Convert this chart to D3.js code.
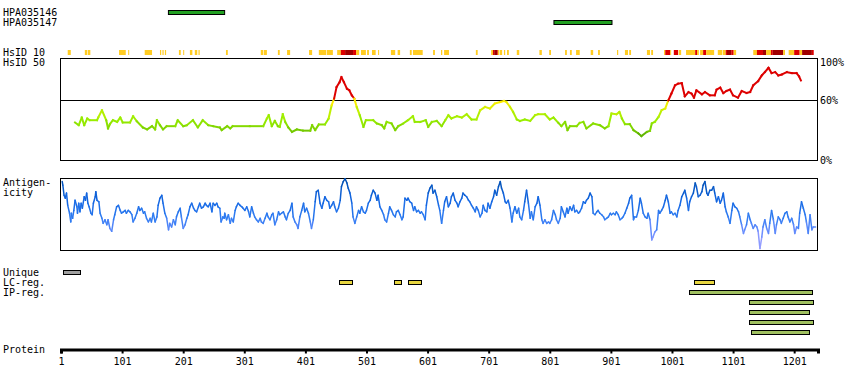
<!DOCTYPE html>
<meta charset="utf-8">
<script src="https://d3js.org/d3.v7.min.js"></script>
<style>
  body { margin: 0; background: #fff; }
  text { font-family: "DejaVu Sans Mono", monospace; font-size: 10px; fill: #000; }
</style>
<div id="chart"></div>
<script>
// protein + axis
var proteinLength = 1240;
var xTicks = [1, 101, 201, 301, 401, 501, 601, 701, 801, 901, 1001, 1101, 1201];

// antibodies (antigen ranges)
var antibodies = ["HPA035146", "HPA035147"];
var antibodyRanges = [[176, 268], [807, 902]];

// HsID 10 blocks: [start, end, level] 1 = >10%, 2 = higher, 3 = highest
var hsid10 = [
  [12,17,1],[40,44,1],[45,49,1],[96,107,1],[111,112,1],[138,150,1],[163,165,1],[167,169,1],[171,173,1],
  [194,197,1],[201,202,1],[212,216,1],[220,224,1],[226,228,1],[271,274,1],[328,332,1],[333,338,1],
  [356,359,1],[371,376,1],[407,412,1],[423,435,1],[436,446,1],[453,459,1],[459,466,2],[466,479,3],
  [479,484,2],[484,489,1],[492,500,1],[502,505,1],[510,516,1],[520,521,1],[541,548,1],[552,556,1],
  [572,575,1],[577,593,1],[610,613,1],[623,625,1],[628,636,1],[680,683,1],[705,708,1],[708,710,2],
  [710,715,3],[715,716,2],[716,718,1],[719,723,1],[726,728,1],[731,734,1],[747,751,1],[784,788,1],
  [800,803,1],[826,829,1],[834,837,1],[844,850,1],[868,872,1],[880,883,1],[911,913,1],[924,929,1],
  [931,934,1],[960,965,1],[967,970,1],[988,990,1],[990,998,2],[998,999,1],[1004,1011,2],[1012,1016,1],
  [1024,1039,1],[1039,1042,2],[1042,1045,1],[1047,1052,1],[1052,1057,2],[1057,1070,1],[1076,1083,1],
  [1084,1089,1],[1089,1091,2],[1091,1098,3],[1098,1102,2],[1102,1106,1],[1134,1140,1],[1140,1150,2],
  [1150,1155,3],[1155,1163,1],[1163,1166,2],[1166,1183,3],[1183,1186,1],[1192,1201,1],[1201,1210,2],
  [1210,1214,1],[1214,1230,3],[1230,1233,2]
];

// HsID 50 identity (%) along the protein
var hsid50 = [
  [24,37.7],[30,35],[35,42.7],[39,35],[44,41.7],[48,40],[60,40],[62,42.7],[68,50],[75,40],[78,31.7],
  [81,36],[86,40],[93,38.3],[98,42.7],[102,37.7],[114,37.7],[119,44],[125,39],[135,32.7],[142,30.7],
  [150,34],[155,30.7],[158,40],[163,35],[168,30.7],[174,34],[188,34],[192,40],[201,34],[207,35],
  [217,40],[225,32.7],[233,40],[242,35],[250,34],[261,32.7],[264,30],[273,34],[278,31.7],[282,34],
  [310,34],[332,34],[338,41.7],[341,45],[346,34],[351,39.3],[356,34],[359,33.3],[364,46],[368,38.3],
  [373,32.7],[379,28.3],[387,30.7],[397,29.5],[409,29.5],[412,35],[417,30],[423,35.7],[433,35.7],
  [439,41.7],[444,55],[448,61.7],[452,73.3],[457,78.3],[460,83.3],[464,78.3],[469,71.7],[473,70],
  [477,65],[481,61.7],[485,53.3],[490,45],[496,33.3],[500,40],[512,40],[518,36.7],[526,35],[530,31.7],
  [534,38.3],[542,36.7],[548,30],[553,34],[561,36.7],[569,40],[577,44],[580,38.3],[589,38.3],[598,40],
  [602,33.3],[608,38.3],[616,39.3],[624,34],[630,40],[635,45],[640,41.7],[649,44],[657,42.7],[665,46],
  [673,40.7],[681,40.7],[687,50],[695,53.3],[703,51.7],[711,56.7],[720,58.3],[726,59.3],[730,58.3],
  [736,53.3],[741,48.3],[747,40.7],[752,39.3],[760,40.7],[769,39.3],[777,45],[782,46],[793,46],
  [801,40.7],[807,42.7],[815,37.3],[820,34],[826,38.3],[830,30],[834,34],[845,34],[850,37.3],
  [856,38.3],[861,31.7],[872,36.7],[883,35],[891,31.7],[897,34],[902,46.7],[910,46],[915,48.3],
  [919,41.7],[924,36],[932,36],[938,30],[946,26.7],[951,24],[960,28.3],[965,29.3],[968,36.7],
  [973,38.3],[979,43.3],[984,50],[990,51.7],[995,60],[1000,66.7],[1006,75],[1011,76.7],[1017,77.3],
  [1022,64],[1028,68.3],[1033,66.7],[1037,62.7],[1041,70],[1050,66],[1055,68.3],[1063,65],[1071,65],
  [1074,70.7],[1080,72.7],[1085,67.3],[1090,69.3],[1096,70.7],[1101,65],[1109,62.7],[1115,69.3],
  [1123,67.3],[1129,68.3],[1134,75],[1142,79.3],[1148,85],[1153,88.3],[1159,92.7],[1164,87.3],
  [1170,88.3],[1175,85],[1181,86],[1189,88.3],[1197,87.3],[1205,87.3],[1209,84],[1212,80]
];

// antigenicity score (0-100 = box bottom to top)
var antigenicity = [
  [3,95],[4,90],[6,76],[8,72],[10,79],[12,62],[15,51],[17,39],[18,51],[20,44],[22,55],[24,69],[27,60],
  [28,51],[30,65],[32,53],[34,65],[36,58],[39,74],[41,69],[43,79],[45,65],[47,60],[50,51],[52,49],
  [54,65],[57,74],[58,81],[60,69],[63,67],[65,51],[68,44],[70,37],[73,42],[76,35],[78,42],[81,30],
  [84,26],[87,42],[89,49],[92,60],[95,62],[98,55],[100,51],[103,53],[106,55],[108,51],[111,55],[114,53],
  [117,49],[119,39],[122,44],[125,51],[128,60],[130,55],[133,58],[136,51],[138,53],[141,44],[144,39],
  [147,44],[149,39],[152,51],[155,39],[158,46],[160,62],[163,72],[166,76],[168,65],[171,51],[174,44],
  [177,28],[179,37],[182,32],[185,42],[188,35],[190,46],[193,53],[196,58],[198,46],[201,30],[204,35],
  [207,44],[209,49],[212,60],[215,65],[218,58],[220,55],[223,53],[226,60],[228,65],[231,58],[234,60],
  [237,65],[239,62],[242,60],[245,65],[248,53],[250,65],[253,62],[256,65],[258,60],[261,58],[263,39],
  [266,46],[268,44],[269,51],[272,42],[275,49],[278,37],[280,44],[283,39],[286,55],[288,60],[291,65],
  [294,62],[297,60],[299,58],[302,55],[305,60],[308,53],[310,46],[313,60],[316,51],[318,46],[321,42],
  [324,39],[327,44],[329,39],[332,37],[335,44],[338,51],[340,46],[343,42],[346,49],[348,51],[351,35],
  [354,42],[357,53],[359,49],[362,51],[365,53],[368,46],[370,42],[373,51],[376,55],[379,65],[381,46],
  [384,39],[387,35],[389,30],[392,46],[395,55],[398,65],[400,53],[403,58],[406,51],[409,39],[411,30],
  [414,42],[417,67],[419,81],[422,83],[425,65],[428,58],[430,65],[433,74],[436,69],[439,67],[441,58],
  [444,62],[447,67],[449,60],[452,53],[455,58],[458,69],[460,88],[463,95],[466,99],[469,93],[471,86],
  [474,79],[477,65],[479,46],[482,37],[485,46],[488,55],[490,51],[493,60],[496,53],[499,51],[501,55],
  [504,65],[507,69],[509,76],[512,83],[515,79],[518,69],[520,76],[523,60],[526,55],[529,49],[531,42],
  [534,39],[537,51],[539,60],[542,55],[545,49],[548,46],[550,53],[553,55],[556,49],[559,42],[561,46],
  [564,72],[567,69],[569,72],[572,67],[575,65],[578,55],[580,60],[583,53],[586,55],[589,51],[591,53],
  [594,49],[597,42],[599,62],[602,79],[605,86],[608,90],[610,79],[613,83],[616,74],[619,62],[621,55],
  [624,37],[627,55],[629,67],[632,74],[635,60],[638,65],[640,74],[643,79],[646,69],[649,65],[651,60],
  [654,67],[657,72],[659,79],[662,76],[665,74],[668,69],[670,67],[673,62],[676,58],[679,53],[681,60],
  [684,55],[687,46],[690,51],[692,62],[695,55],[698,53],[700,65],[703,58],[706,67],[709,74],[711,83],
  [714,76],[717,88],[720,95],[722,86],[725,79],[728,67],[730,65],[733,69],[736,58],[739,39],[741,51],
  [744,60],[747,51],[750,58],[752,46],[755,42],[758,55],[760,67],[763,83],[766,65],[769,44],[771,53],
  [774,42],[777,60],[780,65],[782,74],[785,62],[788,42],[790,37],[793,42],[796,37],[799,39],[801,37],
  [804,42],[807,55],[810,49],[812,42],[815,37],[818,44],[820,60],[823,53],[826,46],[829,58],[831,51],
  [834,60],[837,55],[840,62],[842,53],[845,55],[848,51],[850,53],[853,58],[856,67],[859,65],[861,69],
  [864,72],[867,79],[870,74],[872,51],[875,49],[878,53],[880,55],[883,51],[886,49],[889,46],[891,42],
  [894,44],[897,46],[900,51],[902,49],[905,51],[908,49],[910,53],[913,49],[916,42],[919,44],[921,46],
  [924,51],[927,58],[930,65],[932,72],[935,76],[938,42],[940,46],[943,46],[946,55],[949,72],[951,65],
  [954,51],[957,46],[960,44],[962,51],[965,42],[968,14],[970,18],[973,25],[976,28],[979,55],[981,51],
  [984,55],[987,60],[990,69],[992,76],[995,67],[998,51],[1000,53],[1003,49],[1006,51],[1009,46],
  [1011,55],[1014,62],[1017,74],[1020,79],[1022,83],[1025,72],[1028,55],[1030,67],[1033,74],[1036,79],
  [1039,93],[1041,88],[1044,74],[1047,76],[1050,81],[1052,90],[1055,95],[1058,79],[1060,76],[1063,83],
  [1066,83],[1069,88],[1071,79],[1074,67],[1077,74],[1080,65],[1082,69],[1085,79],[1088,60],[1090,53],
  [1093,46],[1096,37],[1099,55],[1101,65],[1104,60],[1107,58],[1110,53],[1112,46],[1115,35],[1118,23],
  [1120,28],[1123,35],[1126,51],[1129,42],[1131,37],[1134,30],[1137,35],[1140,32],[1142,26],[1145,2],
  [1148,18],[1150,32],[1153,42],[1156,30],[1159,23],[1161,37],[1164,55],[1167,42],[1170,23],[1172,35],
  [1175,46],[1178,42],[1180,37],[1183,44],[1186,51],[1189,53],[1191,46],[1194,39],[1197,44],[1200,35],
  [1202,23],[1205,32],[1208,30],[1210,51],[1213,67],[1216,58],[1219,49],[1221,39],[1224,23],[1227,49],
  [1230,28],[1232,32],[1236,32]
];

// region tracks
var uniqueRegions = [[4, 32]];
var lcRegions = [[456, 478], [546, 558], [569, 591], [1037, 1069]];
var ipRegions = [[1029, 1231], [1127, 1231], [1127, 1226], [1127, 1232], [1131, 1226]];

var width = 850, height = 390;

var svg = d3.select("#chart")
  .append("svg")
    .attr("width", width)
    .attr("height", height);

var x = d3.scaleLinear().domain([1, proteinLength]).range([61, 818]);
var yId = d3.scaleLinear().domain([0, 100]).range([160, 60.5]);
var yAg = d3.scaleLinear().domain([0, 100]).range([250, 178]);

// left labels
var leftLabels = [
  ["HPA035146", 16], ["HPA035147", 26], ["HsID 10", 56], ["HsID 50", 66],
  ["Antigen-", 186], ["icity", 196], ["Unique", 276], ["LC-reg.", 286],
  ["IP-reg.", 296], ["Protein", 353]
];
svg.selectAll("text.left")
  .data(leftLabels)
  .enter()
  .append("text")
    .attr("class", "left")
    .attr("x", 3)
    .attr("y", function(d) { return d[1]; })
    .text(function(d) { return d[0]; });

// antibody bars
svg.selectAll("rect.ab")
  .data(antibodyRanges)
  .enter()
  .append("rect")
    .attr("x", function(d) { return x(d[0]) + 0.5; })
    .attr("y", function(d, i) { return 10.5 + i * 10; })
    .attr("width", function(d) { return x(d[1]) - x(d[0]); })
    .attr("height", 4)
    .style("fill", "#22a022")
    .style("stroke", "#000")
    .style("stroke-width", 1);

// HsID 10 blocks
var hsColor = {1: "#ffcc22", 2: "#dd0000", 3: "#a00000"};
svg.selectAll("rect.hs10")
  .data(hsid10)
  .enter()
  .append("rect")
    .attr("x", function(d) { return x(d[0]); })
    .attr("y", 50)
    .attr("width", function(d) { return Math.max(1, x(d[1]) - x(d[0])); })
    .attr("height", 5)
    .style("fill", function(d) { return hsColor[d[2]]; });

// HsID 50 box
svg.append("rect")
  .attr("x", 60.5).attr("y", 58.5)
  .attr("width", 757).attr("height", 102)
  .style("fill", "none").style("stroke", "#000");
svg.append("line")
  .attr("x1", 60.5).attr("x2", 817.5)
  .attr("y1", Math.round(yId(60)) + 0.5).attr("y2", Math.round(yId(60)) + 0.5)
  .style("stroke", "#000");

var idColor = d3.scaleLinear()
  .domain([22, 30, 40, 50, 59])
  .range(["#4a9e00", "#77cc00", "#99ee00", "#c8f000", "#ffee00"])
  .clamp(true);

svg.selectAll("line.id")
  .data(d3.pairs(hsid50))
  .enter()
  .append("line")
    .attr("x1", function(d) { return x(d[0][0]); })
    .attr("y1", function(d) { return yId(d[0][1]); })
    .attr("x2", function(d) { return x(d[1][0]); })
    .attr("y2", function(d) { return yId(d[1][1]); })
    .style("stroke", function(d) {
      var v = (d[0][1] + d[1][1]) / 2;
      return v >= 60 ? "#dd0000" : idColor(v);
    })
    .style("stroke-width", 2)
    .style("stroke-linecap", "square");

var idLabels = [[100, "100%"], [60, "60%"], [0, "0%"]];
svg.selectAll("text.pct")
  .data(idLabels)
  .enter()
  .append("text")
    .attr("x", 820)
    .attr("y", function(d) { return yId(d[0]) + (d[0] === 100 ? 5.5 : 3.5); })
    .text(function(d) { return d[1]; });

// antigenicity box
svg.append("rect")
  .attr("x", 60.5).attr("y", 178.5)
  .attr("width", 757).attr("height", 72)
  .style("fill", "none").style("stroke", "#000");

var agColor = d3.scaleLinear()
  .domain([0, 25, 45, 70, 95])
  .range(["#b0a8ff", "#6d8eff", "#2f7cf2", "#1366e2", "#0050b4"])
  .clamp(true);

svg.selectAll("line.ag")
  .data(d3.pairs(antigenicity))
  .enter()
  .append("line")
    .attr("x1", function(d) { return x(d[0][0]); })
    .attr("y1", function(d) { return yAg(d[0][1]); })
    .attr("x2", function(d) { return x(d[1][0]); })
    .attr("y2", function(d) { return yAg(d[1][1]); })
    .style("stroke", function(d) { return agColor((d[0][1] + d[1][1]) / 2); })
    .style("stroke-width", 1.5)
    .style("stroke-linecap", "round");

// region tracks
function track(data, y0, fill) {
  svg.append("g").selectAll("rect")
    .data(data)
    .enter()
    .append("rect")
      .attr("x", function(d) { return Math.round(x(d[0])) + 0.5; })
      .attr("y", function(d, i) { return y0 + i * 10; })
      .attr("width", function(d) { return Math.round(x(d[1]) - x(d[0])); })
      .attr("height", 4)
      .style("fill", fill)
      .style("stroke", "#000")
      .style("stroke-width", 1);
}
track(uniqueRegions, 270.5, "#a0a0a0");
lcRegions.forEach(function(r) { track([r], 280.5, "#e8d640"); });
track(ipRegions, 290.5, "#a0c060");

// protein axis
var axis = svg.append("g")
  .attr("transform", "translate(0,349.5)")
  .call(d3.axisBottom(x).tickValues(xTicks).tickFormat(d3.format("d"))
    .tickSize(4).tickSizeOuter(4));
axis.select(".domain").style("stroke-width", 3);
axis.selectAll(".tick line").style("stroke-width", 2);
axis.selectAll(".tick text")
  .attr("y", 15).attr("dy", null)
  .style("font-family", "DejaVu Sans Mono, monospace")
  .style("font-size", "10px");
</script>
